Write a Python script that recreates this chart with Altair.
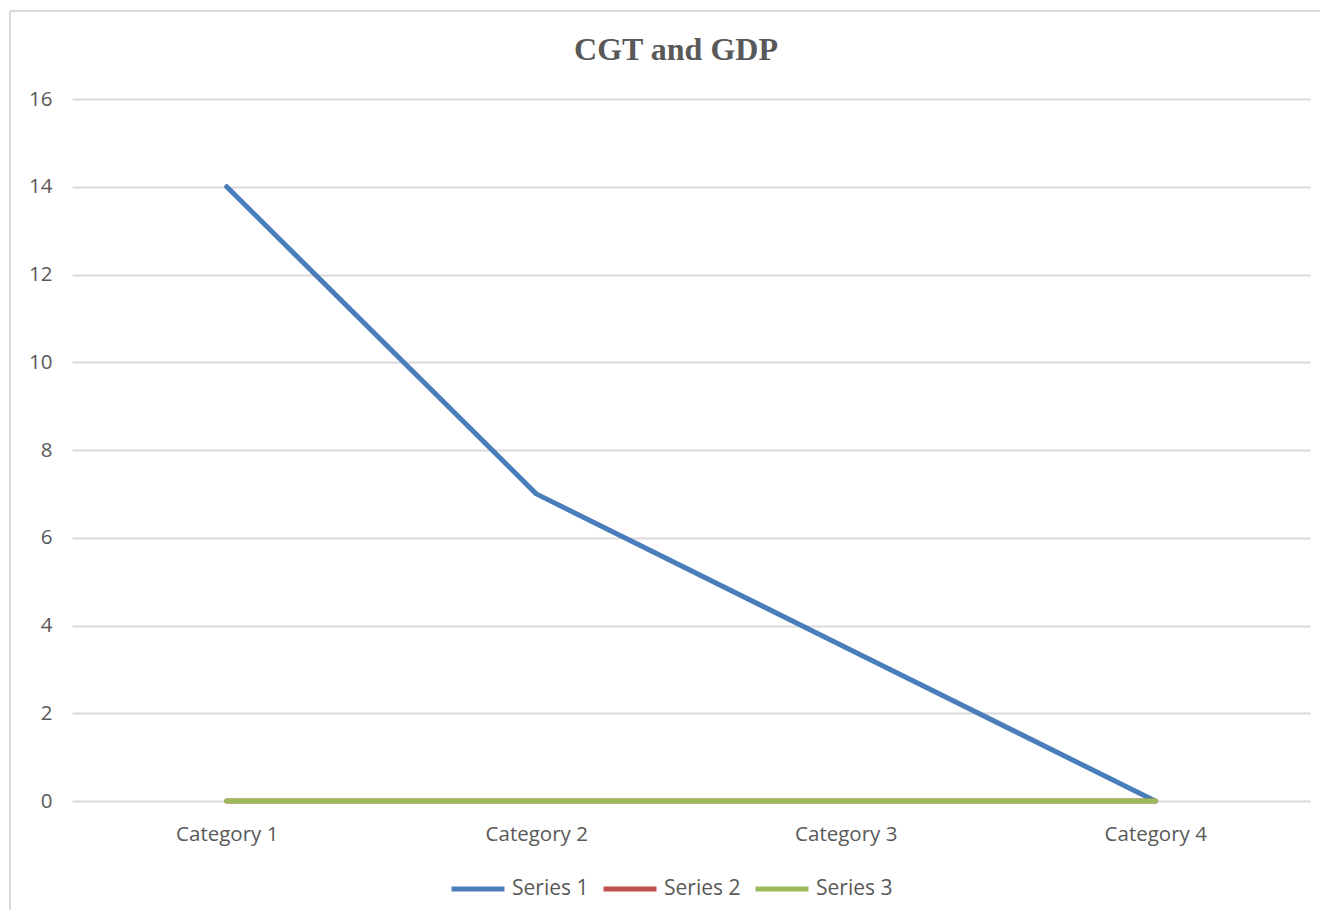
import altair as alt
import pandas as pd

categories = ["Category 1", "Category 2", "Category 3", "Category 4"]
series_names = ["Series 1", "Series 2", "Series 3"]
series_1 = [14, 7, 3.5, 0]
series_2 = [0, 0, 0, 0]
series_3 = [0, 0, 0, 0]
y_ticks = [0, 2, 4, 6, 8, 10, 12, 14, 16]
colors = ["#4A7EBB", "#C0504D", "#9BBB59"]
title_text = "CGT and GDP"

rows = []
for name, vals in zip(series_names, [series_1, series_2, series_3]):
    for c, v in zip(categories, vals):
        rows.append({"category": c, "series": name, "value": v})
df = pd.DataFrame(rows)

W, H = 1238, 702
GRID = "#D9D9D9"
TXT = "#595959"
FONT = "Open Sans"

lines = alt.Chart(df).mark_line(strokeWidth=5, strokeCap="round", strokeJoin="round").encode(
    x=alt.X("category:N", sort=categories, scale=alt.Scale(type="point", padding=0.5),
            axis=alt.Axis(title=None, labelAngle=0, domain=False, ticks=False, grid=False,
                          labelPadding=23, labelFont=FONT, labelFontSize=20.5, labelColor=TXT)),
    y=alt.Y("value:Q", scale=alt.Scale(domain=[0, 16], nice=False),
            axis=alt.Axis(title=None, values=y_ticks, domain=False, ticks=False,
                          gridColor=GRID, gridWidth=2, labelPadding=20,
                          labelFont=FONT, labelFontSize=20.5, labelColor=TXT)),
    color=alt.Color("series:N", sort=series_names,
                    scale=alt.Scale(domain=series_names, range=colors),
                    legend=alt.Legend(title=None, orient="none", legendX=377, legendY=761,
                                      direction="horizontal", symbolType="stroke",
                                      symbolSize=2809, symbolStrokeWidth=5,
                                      labelFont=FONT, labelFontSize=21, labelColor=TXT,
                                      labelOffset=5, columnPadding=4)),
    order=alt.Order("series:N", sort="ascending"),
)

title = alt.Chart(pd.DataFrame({"t": [title_text]})).mark_text(
    font="Liberation Serif", fontSize=32, fontWeight="bold", color=TXT,
    align="center", baseline="middle").encode(
    text="t:N", x=alt.value(604), y=alt.value(-49))

frame_top = alt.Chart(pd.DataFrame({"k": [0]})).mark_rule(color=GRID, strokeWidth=2).encode(
    x=alt.value(-62), x2=alt.value(1256), y=alt.value(-88))
frame_left = alt.Chart(pd.DataFrame({"k": [0]})).mark_rule(color=GRID, strokeWidth=2).encode(
    x=alt.value(-62), y=alt.value(-88), y2=alt.value(H + 109))

chart = alt.layer(frame_top, frame_left, title, lines).properties(
    width=W, height=H,
    autosize=alt.AutoSizeParams(type="none"),
    padding={"left": 64, "top": 91, "right": 10, "bottom": 109},
).configure_view(stroke=None)

chart.save("out.html", embed_options={"renderer": "svg", "actions": False})
